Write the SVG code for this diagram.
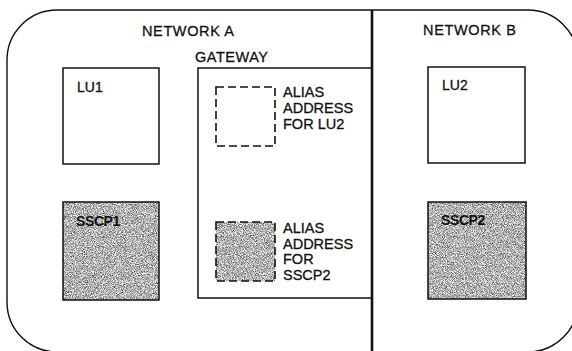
<svg xmlns="http://www.w3.org/2000/svg" width="572" height="351" viewBox="0 0 572 351">
<defs>
<filter id="speckle" x="0" y="0" width="100%" height="100%" color-interpolation-filters="sRGB">
<feTurbulence type="fractalNoise" baseFrequency="1.1" numOctaves="2" seed="7" result="n"/>
<feColorMatrix in="n" type="matrix" values="1.4 0 0 0 0  1.4 0 0 0 0  1.4 0 0 0 0  0 0 0 0 1" result="g"/>
<feComposite in="g" in2="SourceGraphic" operator="in"/>
</filter>
<style>
.t{font-family:"Liberation Sans",Arial,sans-serif;fill:#111;stroke:#111;stroke-width:0.3;}
.h{font-size:14.5px;}
.s{font-size:14px;}
.b{font-size:14px;font-weight:bold;letter-spacing:-0.4px;stroke-width:0;}
.box{fill:none;stroke:#111;stroke-width:1.5;}
.dash{fill:none;stroke:#111;stroke-width:1.6;stroke-dasharray:8 4;}
.gray{fill:#aaa;filter:url(#speckle);}
</style>
</defs>
<g id="frame">
<rect x="7" y="10" width="571" height="342" rx="50" ry="50" fill="none" stroke="#111" stroke-width="1.4"/>
<line x1="372" y1="10" x2="372" y2="352" stroke="#111" stroke-width="2.6"/>
<text class="t h" x="142" y="36" textLength="92">NETWORK A</text>
<text class="t h" x="423" y="35" textLength="93">NETWORK B</text>
</g>
<g id="gateway">
<path d="M372,68 H198 V298 H372" fill="none" stroke="#111" stroke-width="1.5"/>
<text class="t h" x="195" y="62" textLength="73">GATEWAY</text>
</g>
<g id="lu1">
<rect class="box" x="63" y="68" width="96" height="96"/>
<text class="t s" x="77" y="92">LU1</text>
</g>
<g id="lu2">
<rect class="box" x="428" y="67" width="97" height="96"/>
<text class="t s" x="442" y="90">LU2</text>
</g>
<g id="sscp1">
<rect class="gray" x="63" y="202" width="96" height="98"/>
<rect class="box" x="63" y="202" width="96" height="98"/>
<text class="t b" x="76" y="226">SSCP1</text>
</g>
<g id="sscp2">
<rect class="gray" x="428" y="202" width="98" height="97"/>
<rect class="box" x="428" y="202" width="98" height="97"/>
<text class="t b" x="441" y="225">SSCP2</text>
</g>
<g id="alias-lu2">
<rect class="dash" x="216" y="87" width="59" height="59"/>
<text class="t h" x="283" y="97">ALIAS</text>
<text class="t h" x="283" y="113">ADDRESS</text>
<text class="t h" x="283" y="129">FOR LU2</text>
</g>
<g id="alias-sscp2">
<rect class="gray" x="216" y="222" width="59" height="59"/>
<rect class="dash" x="216" y="222" width="59" height="59"/>
<text class="t h" x="283" y="233">ALIAS</text>
<text class="t h" x="283" y="248.5">ADDRESS</text>
<text class="t h" x="283" y="264">FOR</text>
<text class="t h" x="283" y="279.5">SSCP2</text>
</g>
<g id="connectors"></g>
</svg>
